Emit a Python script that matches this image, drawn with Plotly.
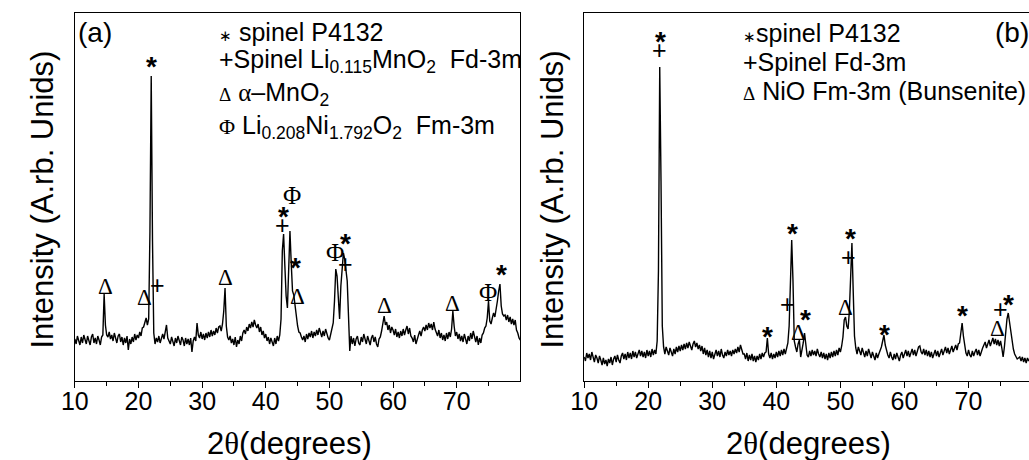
import numpy as np
import plotly.graph_objects as go

# ---------------- data ----------------
two_theta_a = np.round(np.arange(10.0, 80.01, 0.2), 1)
intensity_a = [
    42, 37, 45, 40, 36,   44, 38, 46, 41, 37,   45, 39, 36, 44, 47,   38, 43, 37, 45, 41,
    36, 44, 46, 87, 56,   46, 44, 49, 42, 46,   40, 48, 42, 38, 45,   47, 39, 44, 36, 43,
    38, 45, 31, 42, 37,   44, 39, 47, 41, 46,   43, 49, 45, 53, 54,   59, 63, 56, 62, 150,
    305, 140, 48, 37, 43, 39, 45, 38, 43, 47,   42, 49, 56, 43, 40,   37, 44, 39, 35, 43,
    38, 45, 40, 36, 44,   41, 35, 43, 37, 42,   36, 43, 29, 40, 44,   40, 58, 46, 43, 49,
    42, 47, 41, 48, 43,   49, 44, 51, 45, 50,   46, 53, 48, 54, 55,   50, 57, 70, 93, 55,
    44, 41, 45, 38, 42,   36, 44, 34, 41, 37,   45, 40, 48, 51, 47,   54, 50, 57, 53, 59,
    54, 61, 56, 53, 57,   49, 54, 46, 50, 43,   47, 40, 44, 37, 43,   39, 35, 43, 37, 45,
    40, 46, 62, 130, 147, 115, 85, 73, 120, 150, 118, 90, 86, 75, 65,  55, 49, 48, 44, 41,
    45, 39, 47, 42, 48,   44, 50, 43, 49, 45,   51, 46, 53, 47, 44,   50, 45, 52, 46, 43,
    41, 47, 50, 58, 80,   112, 105, 75, 62, 95, 118, 128, 122, 113, 100, 65, 30, 45, 37, 43,
    35, 42, 45, 38, 36,   44, 39, 47, 41, 37,   45, 40, 36, 43, 46,   39, 44, 37, 34, 42,
    44, 50, 60, 65, 56,   59, 51, 56, 48, 54,   51, 46, 52, 44, 49,   43, 50, 45, 52, 46,
    51, 55, 47, 53, 45,   43, 39, 46, 37, 43,   46, 50, 45, 51, 54,   50, 56, 51, 58, 53,
    57, 51, 59, 52, 48,   45, 51, 43, 48, 41,   46, 40, 48, 42, 49,   44, 52, 70, 55, 45,
    49, 42, 47, 40, 45,   39, 47, 41, 37, 45,   40, 48, 42, 50, 44,   39, 45, 36, 43, 38,
    46, 48, 53, 55, 63,   80, 60, 57, 63, 68,   64, 71, 80, 90, 97,   75, 67, 65, 66, 61,
    66, 59, 64, 57, 62,   56, 61, 51, 48, 43,   41,
]

two_theta_b = np.round(np.arange(10.0, 80.01, 0.2), 1)
intensity_b = [
    24, 20, 28, 23, 27,   21, 29, 24, 19, 26,   23, 18, 25, 21, 16,   23, 17, 21, 15, 22,
    18, 24, 16, 22, 25,   19, 26, 21, 18, 25,   28, 22, 27, 21, 29,   23, 28, 22, 30, 24,
    29, 23, 28, 31, 25,   30, 24, 29, 23, 31,   25, 30, 24, 32, 26,   31, 27, 40, 110, 314,
    200, 55, 34, 27, 34,  29, 26, 33, 28, 25,   32, 27, 34, 29, 35,   30, 36, 31, 37, 32,
    38, 33, 39, 34, 31,   37, 40, 34, 38, 32,   36, 30, 35, 27, 33,   26, 31, 24, 30, 23,
    29, 22, 28, 31, 25,   30, 24, 32, 26, 23,   29, 25, 31, 26, 30,   25, 31, 27, 32, 28,
    34, 29, 36, 30, 27,   27, 22, 28, 20, 26,   21, 27, 20, 25, 19,   25, 21, 27, 22, 28,
    24, 28, 29, 43, 27,   23, 28, 22, 27, 23,   29, 24, 30, 25, 31,   26, 32, 27, 34, 38,
    55, 95, 141, 100, 40, 34, 29, 37, 41, 24,   30, 38, 48, 33, 26,   24, 30, 25, 31, 26,
    30, 25, 32, 27, 24,   29, 23, 28, 22, 27,   21, 28, 23, 29, 24,   30, 25, 31, 26, 33,
    29, 35, 44, 61, 64,   55, 52, 70, 110, 138, 90, 45, 33, 27, 34,   29, 26, 33, 27, 24,
    30, 25, 32, 26, 23,   29, 24, 21, 28, 23,   27, 30, 34, 40, 46,   36, 30, 26, 23, 29,
    24, 21, 27, 22, 28,   23, 20, 26, 29, 23,   28, 31, 25, 30, 24,   29, 32, 26, 31, 25,
    30, 34, 35, 29, 27,   32, 26, 31, 25, 30,   24, 29, 23, 28, 31,   25, 30, 24, 29, 32,
    26, 31, 34, 28, 33,   27, 32, 35, 29, 34,   36, 31, 37, 38, 48,   58, 45, 33, 28, 25,
    31, 26, 24, 30, 25,   29, 32, 26, 31, 25,   30, 33, 36, 39, 33,   38, 41, 35, 40, 43,
    37, 42, 36, 41, 35,   40, 33, 24, 34, 50,   62, 68, 58, 47, 38,   32, 27, 25, 22, 23,
    24, 20, 24, 19, 23,   18, 23, 20, 22, 19,   22,
]

major_ticks = [10, 20, 30, 40, 50, 60, 70]
minor_ticks = [15, 25, 35, 45, 55, 65, 75]

# peak markers: symbol, 2theta, intensity
marks_a_sym = ["Δ", "Δ", "*", "+", "Δ", "*", "+", "Φ", "*", "Δ", "Φ", "*", "+", "Δ", "Δ", "Φ", "*"]
marks_a_x = [14.85, 21.0, 22.0, 23.05, 33.6, 42.8, 42.6, 44.1, 44.6, 44.97, 50.8, 52.5, 52.6, 58.7, 69.4, 74.95, 77.0]
marks_a_y = [95, 84, 320, 96, 104, 170, 156, 185, 120, 85, 128, 143, 117, 76, 78, 89, 113]

marks_b_sym = ["*", "+", "*", "*", "+", "Δ", "*", "Δ", "+", "*", "*", "*", "Δ", "+", "*"]
marks_b_x = [21.96, 21.75, 38.6, 42.6, 41.78, 43.5, 44.5, 50.86, 51.26, 51.6, 56.9, 69.1, 74.6, 75.0, 76.3]
marks_b_y = [345, 331, 51, 153, 77, 49, 68, 74, 124, 148, 53, 72, 53, 72, 83]

legend_a = [
    "<span style='font-size:15px'>∗</span> spinel P4132",
    "+Spinel Li<sub>0.115</sub>MnO<sub>2</sub>\u00a0\u00a0Fd-3m",
    "<span style='font-family:Liberation Serif;font-size:19px'>Δ</span> <span style='font-family:Liberation Serif'>α</span>–MnO<sub>2</sub>",
    "<span style='font-family:Liberation Serif;font-size:22px'>Φ</span> Li<sub>0.208</sub>Ni<sub>1.792</sub>O<sub>2</sub>\u00a0\u00a0Fm-3m",
]
legend_b = [
    "<span style='font-size:15px'>∗</span>spinel P4132",
    "+Spinel Fd-3m",
    "<span style='font-family:Liberation Serif;font-size:19px'>Δ</span> NiO Fm-3m (Bunsenite)",
]

# ---------------- figure ----------------
W, H = 1029, 460
SANS = "Liberation Sans, Arial, sans-serif"
SERIF = "Liberation Serif, Times New Roman, serif"

def fx(p):
    return p / W

def fy(p):
    return 1 - p / H

fig = go.Figure()
fig.add_trace(go.Scatter(x=two_theta_a, y=intensity_a, mode="lines",
                         line=dict(color="black", width=1.4), xaxis="x", yaxis="y",
                         showlegend=False, hoverinfo="skip"))
fig.add_trace(go.Scatter(x=two_theta_b, y=intensity_b, mode="lines",
                         line=dict(color="black", width=1.4), xaxis="x2", yaxis="y2",
                         showlegend=False, hoverinfo="skip"))

ydom = [fy(381), fy(13)]
common_x = dict(
    tickmode="array", tickvals=major_ticks, ticks="outside", ticklen=6, tickwidth=1.2,
    tickcolor="black", showline=True, linecolor="black", linewidth=1.3, mirror=True,
    showgrid=False, zeroline=False, tickfont=dict(family=SANS, size=25, color="black"),
    ticklabelstandoff=-8,
    minor=dict(tickvals=minor_ticks, ticks="outside", ticklen=3.5, tickwidth=1.2,
               tickcolor="black", showgrid=False),
)
common_y = dict(showticklabels=False, ticks="", showline=True, linecolor="black",
                linewidth=1.3, showgrid=False, zeroline=False, range=[0, 368], domain=ydom)

fig.update_layout(
    width=W, height=H, margin=dict(l=0, r=0, t=0, b=0),
    paper_bgcolor="white", plot_bgcolor="white", showlegend=False,
    xaxis=dict(domain=[fx(61.7), fx(513.3)], range=[10, 80], anchor="y", **common_x),
    yaxis=dict(anchor="x", mirror=True, **common_y),
    xaxis2=dict(domain=[fx(578), 1.0], range=[10, 79.44], anchor="y2", **common_x),
    yaxis2=dict(anchor="x2", mirror=False, **common_y),
)

ann = []
# panel labels
ann.append(dict(text="(a)", x=fx(82), y=fy(32), font=dict(family=SANS, size=28)))
ann.append(dict(text="(b)", x=fx(1012), y=fy(32), font=dict(family=SANS, size=28)))
# axis titles
for cx in (279, 805):
    ann.append(dict(text="2<span style='font-family:Liberation Serif'>θ</span>(degrees)",
                    x=fx(cx), y=fy(443), font=dict(family=SANS, size=31)))
for cx in (29, 546):
    ann.append(dict(text="Intensity (A.rb. Unids)", x=fx(cx), y=fy(200), textangle=-90,
                    font=dict(family=SANS, size=31)))
# legends
for txt, ly in zip(legend_a, [32, 61, 94, 127]):
    ann.append(dict(text=txt, x=fx(206), y=fy(ly), xanchor="left",
                    font=dict(family=SANS, size=25)))
for txt, ly in zip(legend_b, [33, 62, 91]):
    ann.append(dict(text=txt, x=fx(737), y=fy(ly), xanchor="left",
                    font=dict(family=SANS, size=25)))
for a in ann:
    a.setdefault("xref", "paper")
    a.setdefault("yref", "paper")
    a.setdefault("showarrow", False)
    a.setdefault("xanchor", "center")
    a.setdefault("yanchor", "middle")
    a["font"]["color"] = "black"

def mark_style(s):
    if s == "*":
        return dict(family=SANS, size=28, weight="bold"), -6
    if s == "+":
        return dict(family=SANS, size=25), 0
    if s == "Δ":
        return dict(family=SERIF, size=23), 0
    return dict(family=SERIF, size=25), 0

for xr, yr, syms, xs, ys in (("x", "y", marks_a_sym, marks_a_x, marks_a_y),
                             ("x2", "y2", marks_b_sym, marks_b_x, marks_b_y)):
    for s, xv, yv in zip(syms, xs, ys):
        f, sh = mark_style(s)
        f["color"] = "black"
        ann.append(dict(text=s, x=xv, y=yv, xref=xr, yref=yr, showarrow=False,
                        xanchor="center", yanchor="middle", yshift=sh, font=f))

fig.update_layout(annotations=ann)
fig.write_html("out.html", config={"displayModeBar": False},
               post_script="document.body.style.margin='0px';"
                           "document.documentElement.style.overflow='hidden';")
